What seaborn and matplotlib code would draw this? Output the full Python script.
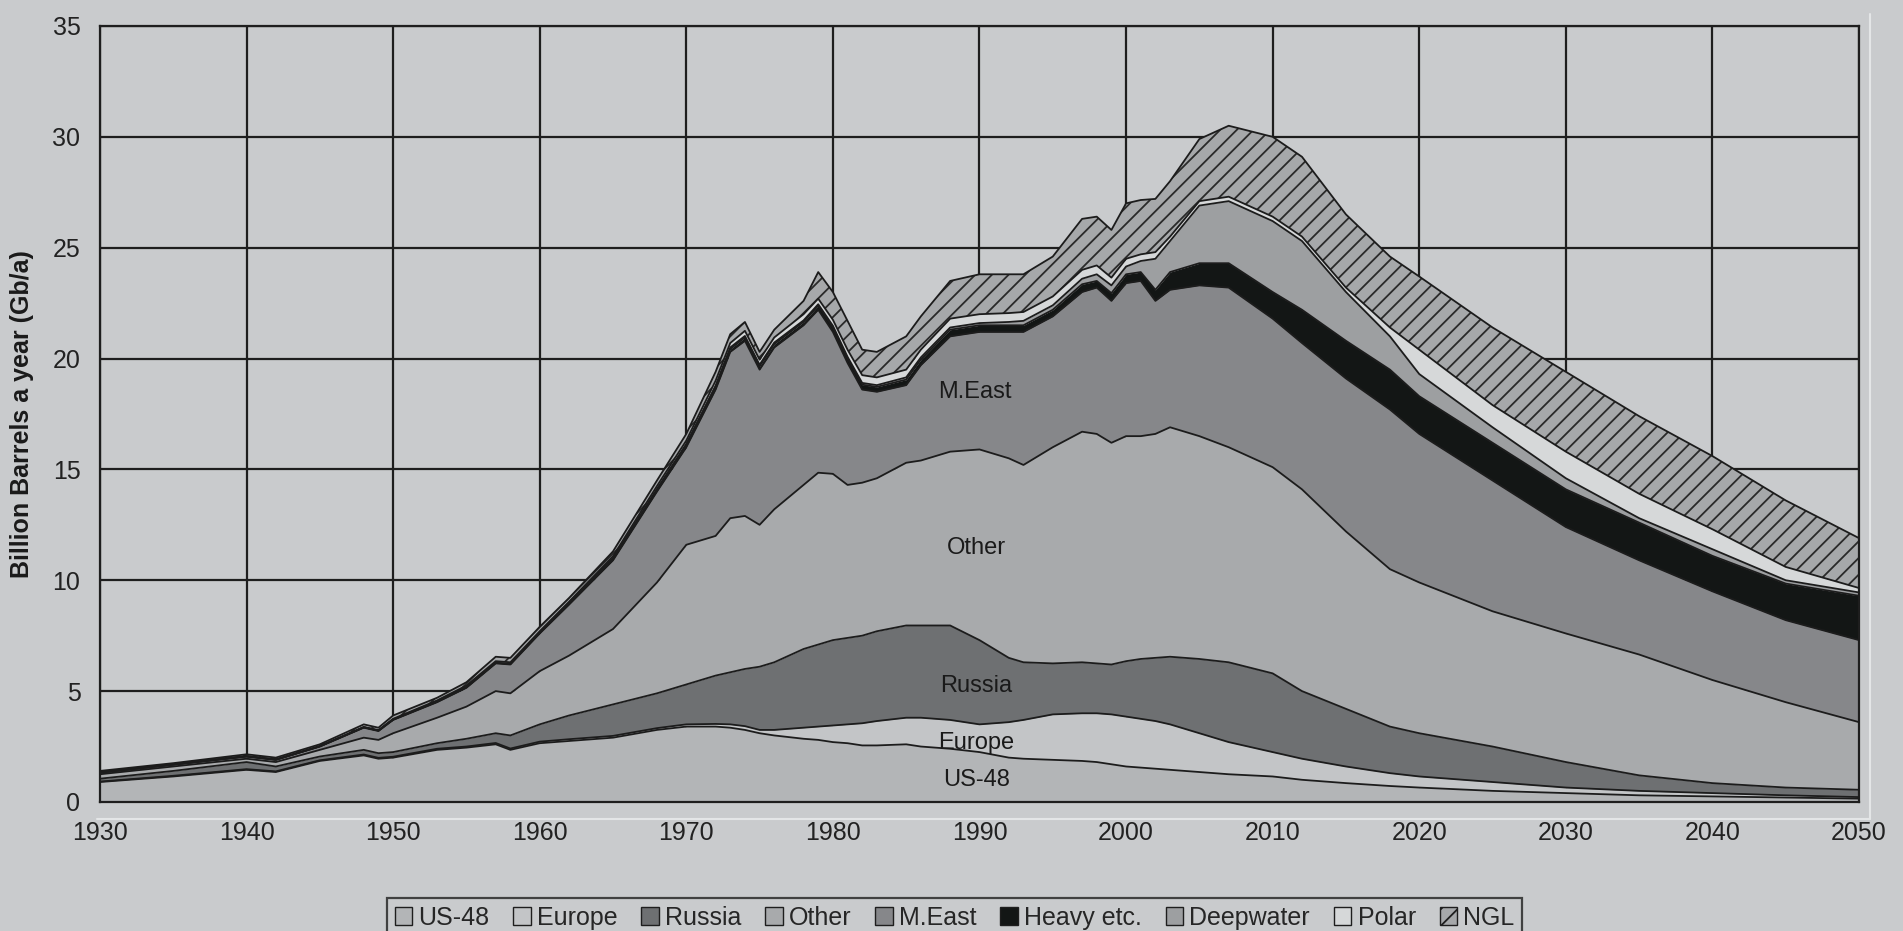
import numpy as np
import pandas as pd
import seaborn as sns
import matplotlib.pyplot as plt
from matplotlib.patches import Patch
from matplotlib.lines import Line2D

# %% data: cumulative top of each layer (Gb/a)
years = [1930, 1935, 1940, 1942, 1945, 1948, 1949, 1950, 1953, 1955, 1957, 1958, 1960, 1962,
         1965, 1968, 1970, 1972, 1973, 1974, 1975, 1976, 1978, 1979, 1980, 1981, 1982, 1983,
         1985, 1986, 1988, 1990, 1992, 1993, 1995, 1997, 1998, 1999, 2000, 2001, 2002, 2003,
         2005, 2007, 2010, 2012, 2015, 2018, 2020, 2025, 2030, 2035, 2040, 2045, 2050]

us48_top = [0.9, 1.15, 1.45, 1.35, 1.85, 2.1, 1.95, 2.0, 2.35, 2.45, 2.6, 2.35, 2.65, 2.75,
            2.9, 3.25, 3.4, 3.4, 3.35, 3.25, 3.1, 3.0, 2.85, 2.8, 2.7, 2.65, 2.55, 2.55,
            2.6, 2.5, 2.4, 2.25, 2.0, 1.95, 1.9, 1.85, 1.8, 1.7, 1.6, 1.55, 1.5, 1.45,
            1.35, 1.25, 1.15, 1.0, 0.85, 0.72, 0.65, 0.5, 0.4, 0.3, 0.25, 0.2, 0.15]

europe_top = [0.92, 1.18, 1.48, 1.38, 1.88, 2.14, 1.99, 2.04, 2.4, 2.5, 2.66, 2.41, 2.72, 2.83,
              2.98, 3.33, 3.5, 3.52, 3.5, 3.42, 3.25, 3.25, 3.35, 3.4, 3.45, 3.5, 3.55, 3.65,
              3.8, 3.8, 3.7, 3.5, 3.6, 3.7, 3.95, 4.0, 4.0, 3.95, 3.85, 3.75, 3.65, 3.5,
              3.1, 2.7, 2.25, 1.95, 1.6, 1.3, 1.15, 0.9, 0.65, 0.5, 0.4, 0.3, 0.22]

russia_top = [1.05, 1.4, 1.8, 1.6, 2.05, 2.35, 2.2, 2.25, 2.65, 2.85, 3.1, 3.0, 3.5, 3.9,
              4.4, 4.9, 5.3, 5.7, 5.85, 6.0, 6.1, 6.3, 6.9, 7.1, 7.3, 7.4, 7.5, 7.7,
              7.96, 7.96, 7.96, 7.3, 6.5, 6.3, 6.25, 6.3, 6.25, 6.2, 6.35, 6.45, 6.5, 6.55,
              6.45, 6.3, 5.8, 5.0, 4.2, 3.4, 3.1, 2.5, 1.8, 1.2, 0.85, 0.65, 0.55]

other_top = [1.25, 1.6, 1.95, 1.8, 2.35, 2.9, 2.8, 3.1, 3.8, 4.3, 5.0, 4.9, 5.9, 6.6,
             7.8, 9.9, 11.6, 12.0, 12.8, 12.9, 12.5, 13.2, 14.3, 14.85, 14.8, 14.3, 14.4, 14.6,
             15.3, 15.4, 15.8, 15.9, 15.5, 15.2, 16.0, 16.7, 16.6, 16.2, 16.5, 16.5, 16.6, 16.9,
             16.5, 16.0, 15.1, 14.1, 12.2, 10.5, 9.9, 8.6, 7.6, 6.65, 5.5, 4.5, 3.6]

meast_top = [1.32, 1.68, 2.05, 1.9, 2.5, 3.35, 3.2, 3.7, 4.5, 5.15, 6.25, 6.2, 7.6, 8.9,
             10.9, 14.0, 16.0, 18.6, 20.3, 20.8, 19.5, 20.5, 21.5, 22.2, 21.2, 19.8, 18.6, 18.5,
             18.8, 19.7, 21.0, 21.2, 21.2, 21.2, 21.9, 23.0, 23.2, 22.6, 23.4, 23.5, 22.6, 23.1,
             23.3, 23.2, 21.8, 20.7, 19.1, 17.7, 16.6, 14.5, 12.4, 10.9, 9.5, 8.2, 7.3]

heavy_top = [1.33, 1.69, 2.06, 1.91, 2.51, 3.37, 3.22, 3.72, 4.53, 5.18, 6.28, 6.23, 7.64, 8.95,
             10.96, 14.08, 16.1, 18.72, 20.43, 20.95, 19.65, 20.65, 21.65, 22.38, 21.4, 20.0, 18.82, 18.72,
             19.05, 19.95, 21.3, 21.5, 21.5, 21.5, 22.2, 23.35, 23.5, 22.95, 23.8, 23.9, 23.1, 23.9,
             24.3, 24.3, 23.0, 22.2, 20.8, 19.5, 18.3, 16.2, 14.1, 12.6, 11.1, 9.85, 9.3]

deepwater_top = [1.33, 1.69, 2.06, 1.91, 2.51, 3.37, 3.22, 3.72, 4.53, 5.18, 6.28, 6.23, 7.65, 8.97,
                 10.99, 14.12, 16.15, 18.78, 20.5, 21.02, 19.72, 20.72, 21.72, 22.45, 21.48, 20.08, 18.9, 18.8,
                 19.15, 20.05, 21.4, 21.6, 21.65, 21.7, 22.4, 23.6, 23.8, 23.3, 24.15, 24.4, 24.5, 25.3,
                 26.9, 27.1, 26.2, 25.3, 23.0, 21.0, 19.3, 16.9, 14.6, 12.8, 11.4, 10.0, 9.45]

polar_top = [1.34, 1.7, 2.07, 1.92, 2.52, 3.38, 3.24, 3.75, 4.58, 5.25, 6.35, 6.3, 7.7, 9.03,
             11.08, 14.25, 16.3, 19.0, 20.7, 21.25, 19.95, 20.95, 22.0, 22.7, 21.75, 20.4, 19.25, 19.15,
             19.5, 20.4, 21.8, 22.0, 22.05, 22.1, 22.8, 24.0, 24.2, 23.65, 24.5, 24.7, 24.8, 25.5,
             27.1, 27.3, 26.4, 25.5, 23.2, 21.4, 20.4, 17.9, 15.8, 13.9, 12.3, 10.6, 9.65]

ngl_top = [1.4, 1.75, 2.15, 2.0, 2.6, 3.5, 3.35, 3.9, 4.7, 5.4, 6.55, 6.5, 7.9, 9.2,
           11.3, 14.5, 16.6, 19.4, 21.1, 21.65, 20.3, 21.3, 22.6, 23.9, 23.0, 21.7, 20.4, 20.3,
           21.0, 21.9, 23.5, 23.8, 23.8, 23.8, 24.6, 26.3, 26.4, 25.8, 27.0, 27.15, 27.2, 28.0,
           29.9, 30.5, 30.0, 29.1, 26.5, 24.6, 23.7, 21.4, 19.4, 17.4, 15.6, 13.6, 11.9]

layer_names = ['US-48', 'Europe', 'Russia', 'Other', 'M.East', 'Heavy etc.', 'Deepwater', 'Polar', 'NGL']
layer_colors = ['#b3b5b7', '#c3c5c7', '#6e7072', '#a8aaac', '#86878a', '#131615', '#9d9fa1', '#d6d8d9', '#a6a8aa']
layer_hatch = [None, None, None, None, None, None, None, None, '//']

# in-chart labels (year, value)
label_text = ['M.East', 'Other', 'Russia', 'Europe', 'US-48']
label_year = [1989.7, 1989.8, 1989.8, 1989.8, 1989.8]
label_value = [18.5, 11.45, 5.25, 2.66, 0.98]

# %%
bg = '#c9cbcd'
sns.set_theme(style='white')
plt.rcParams['font.family'] = ['Liberation Sans', 'DejaVu Sans']
plt.rcParams['hatch.color'] = '#2a2a2a'
plt.rcParams['hatch.linewidth'] = 1.3

fig = plt.figure(figsize=(19.03, 9.31), dpi=100, facecolor=bg)
ax = fig.add_axes([0.0525, 0.1386, 0.9244, 0.8335], facecolor=bg)

tops = [us48_top, europe_top, russia_top, other_top, meast_top,
        heavy_top, deepwater_top, polar_top, ngl_top]
lower = np.zeros(len(years))
for name, top, col, hat in zip(layer_names, tops, layer_colors, layer_hatch):
    ax.fill_between(years, lower, top, facecolor=col, hatch=hat, edgecolor='#2a2a2a',
                    linewidth=0, zorder=2)
    lower = np.array(top)

# boundary lines between layers
long = pd.DataFrame({'year': np.tile(years, len(tops)),
                     'value': np.concatenate(tops),
                     'layer': np.repeat(layer_names, len(years))})
sns.lineplot(data=long, x='year', y='value', hue='layer', units='layer', estimator=None,
             palette=['#1c1c1c'] * len(layer_names), linewidth=1.3, legend=False, ax=ax, zorder=3)

for t, xv, yv in zip(label_text, label_year, label_value):
    ax.text(xv, yv, t, ha='center', va='center', fontsize=17, color='#1a1a1a', zorder=4)

ax.set_xlim(1930, 2050)
ax.set_ylim(0, 35)
ax.set_xticks(range(1930, 2051, 10))
ax.set_yticks(range(0, 36, 5))
ax.grid(True, color='#1e1e1e', linewidth=1.6)
ax.set_axisbelow(True)
for s in ax.spines.values():
    s.set_color('#1e1e1e')
    s.set_linewidth(1.6)
ax.tick_params(axis='both', direction='out', length=7, width=1.5, color='#1e1e1e',
               labelsize=18, labelcolor='#222222', pad=7)
ax.set_xlabel('')
ax.set_ylabel('Billion Barrels a year (Gb/a)', fontsize=18, fontweight='bold', color='#1a1a1a')
ax.yaxis.set_label_coords(-0.0375, 0.5)

# faint light frame of the scanned plot area
fig.add_artist(Line2D([0.051, 0.9826], [0.1203, 0.1203], color='#e4e6e7', linewidth=1.5))
fig.add_artist(Line2D([0.9826, 0.9826], [0.1203, 0.985], color='#e4e6e7', linewidth=1.5))

handles = [Patch(facecolor=c, edgecolor='#1e1e1e', hatch=h, linewidth=1.0)
           for c, h in zip(layer_colors, layer_hatch)]
leg = fig.legend(handles, layer_names, loc='upper center', bbox_to_anchor=(0.5016, 0.0354),
                 ncol=9, fontsize=18, frameon=True, fancybox=False, facecolor=bg,
                 edgecolor='#1e1e1e', handlelength=0.7, handleheight=0.7, handletextpad=0.25,
                 columnspacing=0.95, borderpad=0.3, borderaxespad=0)
leg.get_frame().set_linewidth(1.6)

fig.savefig('out.png', dpi=100, facecolor=bg)
